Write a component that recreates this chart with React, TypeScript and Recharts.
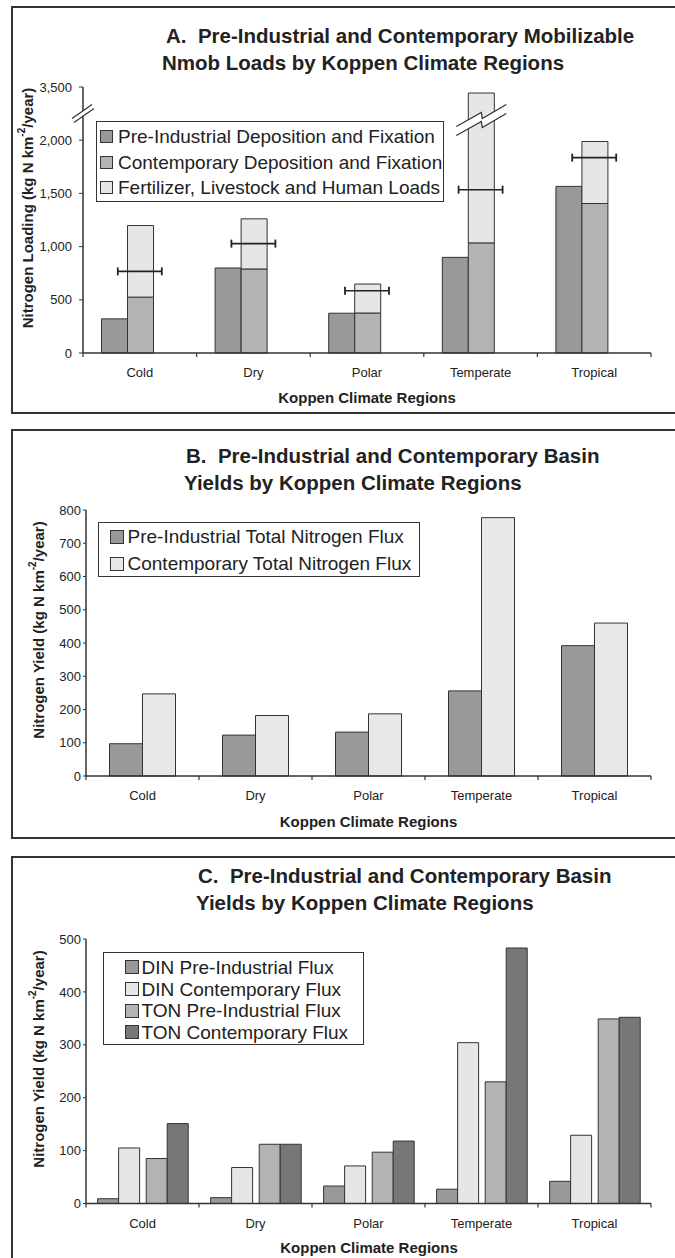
import React from "react";
import { ComposedChart, Bar, Line, XAxis, YAxis, Legend, Rectangle } from "recharts";

const FONT = "'Liberation Sans', Arial, Helvetica, sans-serif";
const INK = "#222";
const EDGE = "#333";
const PLOT_EDGE = "#c0c0c0";

const REGIONS = ["Cold", "Dry", "Polar", "Temperate", "Tropical"];

// A. mobilizable N loads (kg N km-2 yr-1)
const PRE_DEPOSITION = [321, 799, 374, 899, 1566];
const CONTEMP_DEPOSITION = [525, 790, 376, 1035, 1405];
const HUMAN_LOADS = [673, 471, 272, 2295, 583];
const NMOB_MARKER = [767, 1028, 585, 1535, 1836];
const TICKS_A = [0, 500, 1000, 1500, 2000, 3500];
const SERIES_A = [
  "Pre-Industrial Deposition and Fixation",
  "Contemporary Deposition and Fixation",
  "Fertilizer, Livestock and Human Loads",
];

// B. total N basin yields
const PRE_TOTAL_FLUX = [97, 123, 132, 256, 392];
const CONTEMP_TOTAL_FLUX = [247, 182, 187, 777, 460];
const TICKS_B = [0, 100, 200, 300, 400, 500, 600, 700, 800];
const SERIES_B = ["Pre-Industrial Total Nitrogen Flux", "Contemporary Total Nitrogen Flux"];

// C. DIN / TON basin yields
const DIN_PRE = [9, 11, 33, 27, 42];
const DIN_CONTEMP = [105, 68, 71, 304, 129];
const TON_PRE = [85, 112, 97, 230, 349];
const TON_CONTEMP = [151, 112, 118, 483, 352];
const TICKS_C = [0, 100, 200, 300, 400, 500];
const SERIES_C = ["DIN Pre-Industrial Flux", "DIN Contemporary Flux", "TON Pre-Industrial Flux", "TON Contemporary Flux"];

// broken axis in panel A: above 2,000 the scale is squeezed 3x
const BREAK = 2000;
const SQUEEZE = 3;
const BREAK_MARK = 2190;
const toDisplay = (v: number) => (v <= BREAK ? v : BREAK + (v - BREAK) / SQUEEZE);
const fromDisplay = (d: number) => (d <= BREAK ? d : BREAK + (d - BREAK) * SQUEEZE);

const dataA = REGIONS.map((region, i) => {
  const total = CONTEMP_DEPOSITION[i] + HUMAN_LOADS[i];
  return {
    region,
    pre: PRE_DEPOSITION[i],
    contemp: CONTEMP_DEPOSITION[i],
    human: toDisplay(total) - CONTEMP_DEPOSITION[i],
    total,
    marker: toDisplay(NMOB_MARKER[i]),
  };
});

const dataB = REGIONS.map((region, i) => ({
  region,
  pre: PRE_TOTAL_FLUX[i],
  contemp: CONTEMP_TOTAL_FLUX[i],
}));

const dataC = REGIONS.map((region, i) => ({
  region,
  dinPre: DIN_PRE[i],
  dinCon: DIN_CONTEMP[i],
  tonPre: TON_PRE[i],
  tonCon: TON_CONTEMP[i],
}));

function CategoryTick(props: any) {
  const { x, y, payload } = props;
  const half = payload.offset || 56.7;
  const last = payload.value === REGIONS[REGIONS.length - 1];
  return (
    <g>
      <line x1={x - half} x2={x - half} y1={y} y2={y + 4} stroke={EDGE} strokeWidth={1.2} />
      {last && <line x1={x + half} x2={x + half} y1={y} y2={y + 4} stroke={EDGE} strokeWidth={1.2} />}
      <text x={x} y={y + 24} textAnchor="middle" fontSize={13} fontFamily={FONT} fill={INK}>
        {payload.value}
      </text>
    </g>
  );
}

function AxisBreak({ x, y }: { x: number; y: number }) {
  return (
    <g>
      <polygon points={`${x - 11},${y + 5} ${x + 9},${y - 9} ${x + 11},${y - 5} ${x - 9},${y + 9}`} fill="#fff" />
      <line x1={x - 11} y1={y + 5} x2={x + 9} y2={y - 9} stroke={EDGE} strokeWidth={1.2} />
      <line x1={x - 9} y1={y + 9} x2={x + 11} y2={y - 5} stroke={EDGE} strokeWidth={1.2} />
    </g>
  );
}

function LoadTick(props: any) {
  const { x, y, payload } = props;
  return (
    <g>
      <text x={x} y={y} dy="0.36em" textAnchor="end" fontSize={13} fontFamily={FONT} fill={INK}>
        {fromDisplay(payload.value).toLocaleString("en-US")}
      </text>
      {payload.value > BREAK && <AxisBreak x={x + 11} y={y + 26.5} />}
    </g>
  );
}

const ZIG = [[-25, 11], [0, -3], [1, 3], [25, -11]];

function HumanShape(props: any) {
  const { x, y, width, height, fill, payload } = props;
  const rect = <Rectangle x={x} y={y} width={width} height={height} fill={fill} stroke={EDGE} strokeWidth={1} />;
  if (!(payload.total > BREAK)) return rect;
  const topD = toDisplay(payload.total);
  const by = y + (height * (topD - BREAK_MARK)) / (topD - payload.contemp);
  const cx = x + width / 2;
  const upper = ZIG.map(([dx, dy]) => [cx + dx, by + dy - 4.5]);
  const lower = ZIG.map(([dx, dy]) => [cx + dx, by + dy + 4.5]);
  const pts = (p: number[][]) => p.map((q) => q.join(",")).join(" ");
  return (
    <g>
      {rect}
      <polygon points={pts([...upper, ...lower.slice().reverse()])} fill="#fff" />
      <polyline points={pts(upper)} fill="none" stroke={EDGE} strokeWidth={1.3} />
      <polyline points={pts(lower)} fill="none" stroke={EDGE} strokeWidth={1.3} />
    </g>
  );
}

function MarkerDot(props: any) {
  const { cx, cy, index } = props;
  if (cx == null || cy == null) return <g key={index} />;
  return (
    <g key={index}>
      <line x1={cx - 22} x2={cx + 22} y1={cy} y2={cy} stroke={INK} strokeWidth={1.6} />
      <line x1={cx - 22} x2={cx - 22} y1={cy - 4} y2={cy + 4} stroke={INK} strokeWidth={1.8} />
      <line x1={cx + 22} x2={cx + 22} y1={cy - 4} y2={cy + 4} stroke={INK} strokeWidth={1.8} />
    </g>
  );
}

function shifted(dx: number) {
  return (props: any) => (
    <Rectangle
      x={props.x + dx}
      y={props.y}
      width={props.width}
      height={props.height}
      fill={props.fill}
      stroke={EDGE}
      strokeWidth={1}
    />
  );
}

type BoxOpts = { order: string[]; width: number; height: number; padTop: number; padLeft: number; row: number; swatch: number; gap: number };

function boxLegend(o: BoxOpts) {
  return (props: any) => {
    const items = (props.payload || [])
      .filter((p: any) => p.type !== "none" && o.order.includes(p.value))
      .sort((a: any, b: any) => o.order.indexOf(a.value) - o.order.indexOf(b.value));
    return (
      <div
        style={{
          width: o.width,
          height: o.height,
          boxSizing: "border-box",
          border: `1.5px solid ${EDGE}`,
          background: "#fff",
          padding: `${o.padTop}px 0 0 ${o.padLeft}px`,
          fontFamily: FONT,
        }}
      >
        {items.map((p: any) => (
          <div key={p.value} style={{ display: "flex", alignItems: "center", height: o.row }}>
            <span
              style={{
                width: o.swatch,
                height: o.swatch,
                boxSizing: "border-box",
                border: `1px solid ${EDGE}`,
                background: p.color,
                marginRight: o.gap,
                flex: "none",
              }}
            />
            <span style={{ fontSize: 19, color: INK, whiteSpace: "nowrap", lineHeight: 1 }}>{p.value}</span>
          </div>
        ))}
      </div>
    );
  };
}

function Title({ x1, x2, l1, l2 }: { x1: number; x2: number; l1: string; l2: string }) {
  return (
    <g fontFamily={FONT} fontWeight="bold" fontSize={20.5} fill={INK}>
      <text x={x1} y={43} style={{ whiteSpace: "pre" }}>{l1}</text>
      <text x={x2} y={70}>{l2}</text>
    </g>
  );
}

function YTitle({ x, y, label }: { x: number; y: number; label: string }) {
  return (
    <text
      transform="rotate(-90)"
      x={-y}
      y={x}
      textAnchor="middle"
      dominantBaseline="central"
      fontFamily={FONT}
      fontWeight="bold"
      fontSize={15}
      fill={INK}
    >
      <tspan>{label} (kg N km</tspan>
      <tspan dy={-6} fontSize={10}>-2</tspan>
      <tspan dy={6}>/year)</tspan>
    </text>
  );
}

function XTitle({ x, y }: { x: number; y: number }) {
  return (
    <text x={x} y={y} textAnchor="middle" fontFamily={FONT} fontWeight="bold" fontSize={15} fill={INK}>
      Koppen Climate Regions
    </text>
  );
}

const frame = (top: number, height: number): React.CSSProperties => ({
  position: "absolute",
  left: 11,
  top,
  width: 700,
  height,
  boxSizing: "border-box",
  border: `2px solid ${EDGE}`,
});

function PlotEdges() {
  return [
    <XAxis key="t" xAxisId="top" orientation="top" dataKey="region" height={0} tick={false} tickLine={false} axisLine={{ stroke: PLOT_EDGE }} />,
    <YAxis key="r" yAxisId="right" orientation="right" width={0} domain={[0, 1]} tick={false} tickLine={false} axisLine={{ stroke: PLOT_EDGE }} />,
  ];
}

export default function App() {
  return (
    <div style={{ position: "absolute", left: 0, top: 0, width: 675, height: 1258, overflow: "hidden", background: "#fff" }}>
      <div style={frame(6, 408)} />
      <div style={frame(429, 410)} />
      <div style={frame(856, 500)} />

      <div style={{ position: "absolute", left: 0, top: 0 }}>
        <ComposedChart
          width={675}
          height={420}
          data={dataA}
          margin={{ top: 87, right: 24, bottom: 37, left: 23 }}
          barGap={0}
          barCategoryGap="16.3%"
        >
          {PlotEdges()}
          <XAxis dataKey="region" height={30} tickSize={0} tickMargin={0} tickLine={false} tick={<CategoryTick />} axisLine={{ stroke: EDGE, strokeWidth: 1.5 }} />
          <YAxis
            width={60}
            domain={[0, toDisplay(3500)]}
            ticks={TICKS_A.map(toDisplay)}
            tickSize={4}
            tickMargin={7}
            tick={<LoadTick />}
            tickLine={{ stroke: EDGE }}
            axisLine={{ stroke: EDGE, strokeWidth: 1.5 }}
          />
          <Bar dataKey="pre" stackId="a" name={SERIES_A[0]} fill="#999999" stroke={EDGE} isAnimationActive={false} />
          <Bar dataKey="contemp" stackId="b" name={SERIES_A[1]} fill="#b3b3b3" stroke={EDGE} isAnimationActive={false} />
          <Bar dataKey="human" stackId="b" name={SERIES_A[2]} fill="#e6e6e6" shape={HumanShape} isAnimationActive={false} />
          <Bar dataKey="spacer" stackId="c" legendType="none" fill="none" isAnimationActive={false} />
          <Line dataKey="marker" stroke="none" dot={MarkerDot} activeDot={false} legendType="none" isAnimationActive={false} />
          <Legend
            layout="vertical"
            align="center"
            verticalAlign="middle"
            wrapperStyle={{ left: 96, top: 121 }}
            content={boxLegend({ order: SERIES_A, width: 348, height: 81, padTop: 2, padLeft: 3, row: 25.5, swatch: 13, gap: 5 })}
          />
          <Title x1={166} x2={162} l1="A.  Pre-Industrial and Contemporary Mobilizable" l2="Nmob Loads by Koppen Climate Regions" />
          <YTitle x={27} y={208} label="Nitrogen Loading" />
          <XTitle x={367} y={402.5} />
        </ComposedChart>
      </div>

      <div style={{ position: "absolute", left: 0, top: 420 }}>
        <ComposedChart
          width={675}
          height={420}
          data={dataB}
          margin={{ top: 90, right: 24, bottom: 34, left: 26 }}
          barGap={0}
          barCategoryGap="20.8%"
        >
          {PlotEdges()}
          <XAxis dataKey="region" height={30} tickSize={0} tickMargin={0} tickLine={false} tick={<CategoryTick />} axisLine={{ stroke: EDGE, strokeWidth: 1.5 }} />
          <YAxis
            width={60}
            domain={[0, 800]}
            ticks={TICKS_B}
            tickSize={3}
            tickMargin={2}
            tick={{ fontSize: 13, fill: INK, fontFamily: FONT }}
            tickLine={{ stroke: EDGE }}
            axisLine={{ stroke: EDGE, strokeWidth: 1.5 }}
          />
          <Bar dataKey="pre" stackId="a" name={SERIES_B[0]} fill="#999999" stroke={EDGE} isAnimationActive={false} />
          <Bar dataKey="contemp" stackId="b" name={SERIES_B[1]} fill="#e8e8e8" stroke={EDGE} isAnimationActive={false} />
          <Legend
            layout="vertical"
            align="center"
            verticalAlign="middle"
            wrapperStyle={{ left: 98, top: 101.7 }}
            content={boxLegend({ order: SERIES_B, width: 322, height: 55, padTop: 1, padLeft: 10.5, row: 26.6, swatch: 14, gap: 4 })}
          />
          <Title x1={186} x2={184} l1="B.  Pre-Industrial and Contemporary Basin" l2="Yields by Koppen Climate Regions" />
          <YTitle x={38} y={210} label="Nitrogen Yield" />
          <XTitle x={368.5} y={406.5} />
        </ComposedChart>
      </div>

      <div style={{ position: "absolute", left: 0, top: 840 }}>
        <ComposedChart
          width={675}
          height={418}
          data={dataC}
          margin={{ top: 99, right: 24, bottom: 24.5, left: 26 }}
          barGap={0}
          barCategoryGap="13.2%"
        >
          {PlotEdges()}
          <XAxis dataKey="region" height={30} tickSize={0} tickMargin={0} tickLine={false} tick={<CategoryTick />} axisLine={{ stroke: EDGE, strokeWidth: 1.5 }} />
          <YAxis
            width={60}
            domain={[0, 500]}
            ticks={TICKS_C}
            tickSize={3}
            tickMargin={2}
            tick={{ fontSize: 13, fill: INK, fontFamily: FONT }}
            tickLine={{ stroke: EDGE }}
            axisLine={{ stroke: EDGE, strokeWidth: 1.5 }}
          />
          <Bar dataKey="dinPre" stackId="a" name={SERIES_C[0]} fill="#999999" shape={shifted(-3.3)} isAnimationActive={false} />
          <Bar dataKey="dinCon" stackId="b" name={SERIES_C[1]} fill="#e6e6e6" shape={shifted(-3.3)} isAnimationActive={false} />
          <Bar dataKey="tonPre" stackId="c" name={SERIES_C[2]} fill="#b3b3b3" shape={shifted(3.3)} isAnimationActive={false} />
          <Bar dataKey="tonCon" stackId="d" name={SERIES_C[3]} fill="#777777" shape={shifted(3.3)} isAnimationActive={false} />
          <Legend
            layout="vertical"
            align="center"
            verticalAlign="middle"
            wrapperStyle={{ left: 103, top: 112 }}
            content={boxLegend({ order: SERIES_C, width: 261, height: 93, padTop: 3.5, padLeft: 20.5, row: 21.7, swatch: 14, gap: 3 })}
          />
          <Title x1={198} x2={196} l1="C.  Pre-Industrial and Contemporary Basin" l2="Yields by Koppen Climate Regions" />
          <YTitle x={38} y={219} label="Nitrogen Yield" />
          <XTitle x={369} y={413} />
        </ComposedChart>
      </div>
    </div>
  );
}
